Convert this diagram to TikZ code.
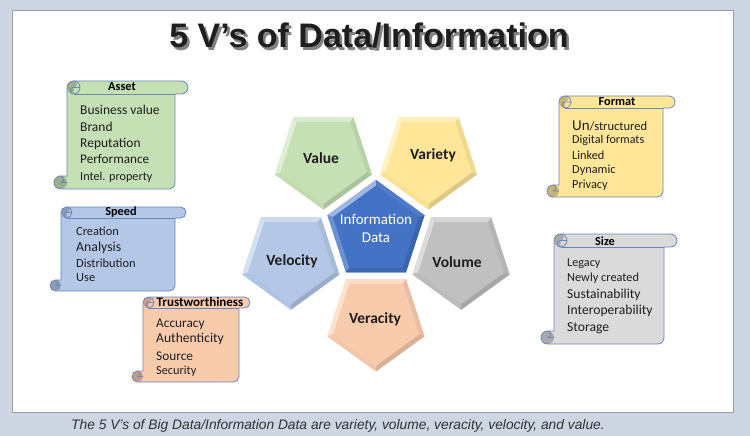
\documentclass[tikz,border=0pt]{standalone}
\usepackage{fontspec}
\setmainfont{Carlito}
\newfontfamily\titlefont{Liberation Sans}
\newfontfamily\capfont{Liberation Sans}
\usetikzlibrary{shapes.geometric}
\definecolor{bgout}{RGB}{205,214,226}
\definecolor{panelline}{RGB}{150,155,165}
\definecolor{cgreen}{RGB}{197,224,180}
\definecolor{cyellow}{RGB}{255,230,153}
\definecolor{cblue}{RGB}{180,199,231}
\definecolor{cgray}{RGB}{192,192,192}
\definecolor{cpeach}{RGB}{248,203,173}
\definecolor{ccenter}{RGB}{68,114,196}
\definecolor{sgray}{RGB}{218,218,218}
\definecolor{sborder}{RGB}{105,135,190}
\definecolor{txt}{RGB}{30,30,30}
\definecolor{shadowc}{RGB}{130,130,130}
\definecolor{captxt}{RGB}{50,50,50}
\newcommand{\fsz}[1]{\fontsize{#1}{#1}\selectfont}
\newcommand{\titletext}{5 V’s of Data/Information}
\tikzset{
  pent/.style={regular polygon, regular polygon sides=5, minimum size=102pt, inner sep=0pt, outer sep=0pt, draw=none},
  pentin/.style={regular polygon, regular polygon sides=5, minimum size=91pt, inner sep=0pt, outer sep=0pt, draw=none},
  plabel/.style={font=\fsz{15.5}\bfseries, text=txt, inner sep=0pt},
  shead/.style={font=\fsz{12.3}\bfseries, text=black, inner sep=0pt},
  sline/.style={anchor=base west, inner sep=0pt, text=txt},
  scrollline/.style={draw=sborder, line width=0.8pt, line join=round},
}
\newcommand{\bevpent}[5]{%
  \node[pent, shape border rotate=#3, fill=#4] (#1) at #2 {};
  \node[pentin, shape border rotate=#3, fill=#4] (#1-in) at #2 {};
  \foreach \i in {1,...,5}{%
    \pgfmathtruncatemacro\j{mod(\i,5)+1}%
    \pgfmathsetmacro\sh{cos(#5+72*(\i-1)-135)}%
    \ifdim\sh pt>0pt
      \pgfmathtruncatemacro\pc{\sh*50}\def\fc{white!\pc!#4}%
    \else
      \pgfmathtruncatemacro\pc{-\sh*14}\def\fc{black!\pc!#4}%
    \fi
    \fill[fill=\fc] (#1.corner \i) -- (#1.corner \j) -- (#1-in.corner \j) -- (#1-in.corner \i) -- cycle;
  }%
}
\newcommand{\scrollpath}[5]{%
  (#1+#5,#4-#5) -- (#1+#5,#2+#5/2) arc[start angle=180,end angle=270,radius=#5/2]
  -- (#3-#5/2,#2) arc[start angle=270,end angle=450,radius=#5/2]
  -- (#3-#5,#2+#5) -- (#3-#5,#4-#5/2) arc[start angle=0,end angle=90,radius=#5/2]
  -- (#1+#5/2,#4) arc[start angle=90,end angle=270,radius=#5/2] -- cycle}
\newcommand{\vscroll}[7]{%
  \fill[#6] \scrollpath{#1}{#2}{#3}{#4}{#5};
  \fill[#7] (#1+#5/2,#4-#5/2) circle[radius=#5/2];
  \fill[#7] (#1+1.5*#5,#2+#5) arc[start angle=90,end angle=270,radius=#5/2]
     arc[start angle=270,end angle=450,radius=#5/4] -- cycle;
  \draw[scrollline] \scrollpath{#1}{#2}{#3}{#4}{#5};
  \draw[scrollline] (#3-#5,#2+#5) -- (#1+1.5*#5,#2+#5);
  \draw[scrollline] (#1+1.5*#5,#2) arc[start angle=270,end angle=450,radius=#5/2]
     arc[start angle=90,end angle=270,radius=#5/4] -- (#1+2*#5,#2+#5/2);
  \draw[scrollline] (#1+#5/2,#4-#5) arc[start angle=270,end angle=450,radius=#5/4] -- (#1+#5,#4-#5/2);
}
\begin{document}
\begin{tikzpicture}[x=1pt,y=-1pt]
\useasboundingbox (0,0) rectangle (750,436);
\fill[bgout] (0,0) rectangle (750,436);
\draw[panelline, fill=white, line width=0.6pt] (12,10.5) rectangle (733,412.5);

% title with drop shadow (one node)
\node[font=\titlefont\fsz{34}\bfseries, text=txt, inner sep=0pt] (title) at (369,37)
  {\makebox[0pt][l]{\hspace{2.5pt}\raisebox{-2.5pt}{\textcolor{shadowc}{\titletext}}}\titletext};

% pentagons
\bevpent{value}{(323.4,158.6)}{180}{cgreen}{306}
\bevpent{variety}{(428.6,158.6)}{180}{cyellow}{306}
\bevpent{velocity}{(290.9,258.7)}{180}{cblue}{306}
\bevpent{volume}{(461.1,258.7)}{180}{cgray}{306}
\bevpent{veracity}{(376,320.5)}{180}{cpeach}{306}
\bevpent{center}{(376,231)}{0}{ccenter}{126}

\node[plabel] (valueT) at (321,158) {Value};
\node[plabel] (varietyT) at (433,155) {Variety};
\node[plabel] (velocityT) at (292,261) {Velocity};
\node[plabel] (volumeT) at (457,262) {Volume};
\node[plabel] (veracityT) at (375,319) {Veracity};
\node[font=\fontsize{15}{18}\selectfont, text=white, align=center, inner sep=0pt] (centerT) at (376,228) {Information\\Data};

% scrolls
\vscroll{54}{81}{188}{189}{13}{cgreen}{cgreen!78!black}
\vscroll{50}{207}{186}{291}{11}{cblue}{cblue!78!black}
\vscroll{132}{297}{250}{382}{11}{cpeach}{cpeach!78!black}
\vscroll{547}{96}{675}{197}{12}{cyellow}{cyellow!78!black}
\vscroll{541}{234}{677}{344}{13}{sgray}{sgray!78!black}

% Asset
\node[shead] (assetH) at (122,87) {Asset};
\node[sline, font=\fsz{13.5}] (a1) at (80,114.5) {Business value};
\node[sline, font=\fsz{13.5}] (a2) at (80,131) {Brand};
\node[sline, font=\fsz{13.5}] (a3) at (80,147.5) {Reputation};
\node[sline, font=\fsz{13.2}] (a4) at (80,163.5) {Performance};
\node[sline, font=\fsz{12.2}] (a5) at (80,180) {Intel. property};

% Speed
\node[shead] (speedH) at (121,212) {Speed};
\node[sline, font=\fsz{12.4}] (s1) at (76,235) {Creation};
\node[sline, font=\fsz{13.8}] (s2) at (76,251.5) {Analysis};
\node[sline, font=\fsz{12.4}] (s3) at (76,267) {Distribution};
\node[sline, font=\fsz{12.4}] (s4) at (76,281) {Use};

% Trustworthiness
\node[shead, font=\fsz{13}\bfseries] (trustH) at (200,302) {Trustworthiness};
\node[sline, font=\fsz{13.3}] (t1) at (156,327.5) {Accuracy};
\node[sline, font=\fsz{13.6}] (t2) at (156,342.5) {Authenticity};
\node[sline, font=\fsz{13.3}] (t3) at (156,360) {Source};
\node[sline, font=\fsz{12.3}] (t4) at (156,374) {Security};

% Format
\node[shead] (formatH) at (617,102) {Format};
\node[sline, font=\fsz{12.5}] (f1) at (572,130.5) {{\fsz{15}Un}/structured};
\node[sline, font=\fsz{12.1}] (f2) at (572,143.5) {Digital formats};
\node[sline, font=\fsz{12.3}] (f3) at (572,159) {Linked};
\node[sline, font=\fsz{12.3}] (f4) at (572,173.5) {Dynamic};
\node[sline, font=\fsz{12.3}] (f5) at (572,188) {Privacy};

% Size
\node[shead] (sizeH) at (605,241) {Size};
\node[sline, font=\fsz{12.2}] (z1) at (567,266.5) {Legacy};
\node[sline, font=\fsz{12.3}] (z2) at (567,281.5) {Newly created};
\node[sline, font=\fsz{13.6}] (z3) at (567,298) {Sustainability};
\node[sline, font=\fsz{13.6}] (z4) at (567,314.5) {Interoperability};
\node[sline, font=\fsz{13.6}] (z5) at (567,331) {Storage};

% caption
\node[font=\capfont\itshape\fsz{13.8}, text=captxt, anchor=base west, inner sep=0pt] (cap) at (71,429) {The 5 V’s of Big Data/Information Data are variety, volume, veracity, velocity, and value.};
\end{tikzpicture}
\end{document}
